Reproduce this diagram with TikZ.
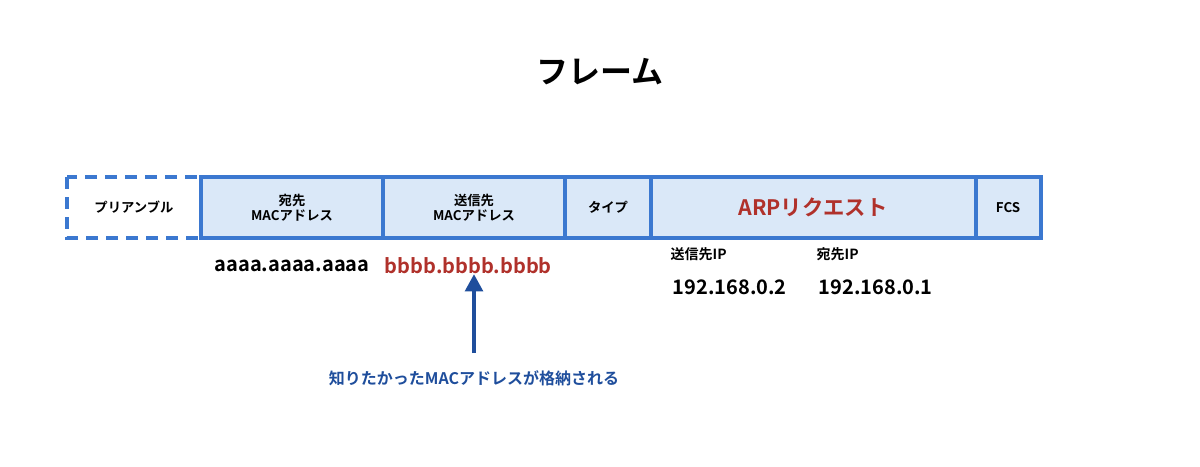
\documentclass[tikz,border=0pt]{standalone}
\usepackage{fontspec}
\newfontfamily\jp{Noto Sans CJK JP Bold}
\usetikzlibrary{arrows.meta}
\definecolor{bfill}{HTML}{DAE8F8}
\definecolor{bline}{HTML}{3B78D0}
\definecolor{dred}{HTML}{B0312B}
\definecolor{dblue}{HTML}{1F4E9C}
\tikzset{
 fld/.style={draw=bline,line width=3pt,fill=bfill,inner sep=0pt},
 lbl/.style={font=\jp\fontsize{10}{11.5}\selectfont,align=center},
 val/.style={font=\jp\fontsize{15}{17}\selectfont,anchor=west},
 sm/.style={font=\jp\fontsize{10.5}{12}\selectfont,anchor=west}
}
\begin{document}
\begin{tikzpicture}[x=0.75pt,y=-0.75pt]
\useasboundingbox (0,0) rectangle (1200,467);
\node[font=\jp\fontsize{24}{27}\selectfont] (title) at (600,72) {フレーム};
\draw[bline,line width=3pt,dash pattern=on 9pt off 6pt] (67,177) rectangle (201,238);
\node[lbl] (pre) at (134,207.5) {プリアンブル};
\draw[fld] (201,177) rectangle (1041,238);
\foreach \x in {383,565,651,976}{\draw[bline,line width=3pt] (\x,177)--(\x,238);}
\node[lbl] (dst) at (292,207.5) {宛先\\MACアドレス};
\node[lbl] (src) at (474,207.5) {送信先\\MACアドレス};
\node[lbl] (typ) at (608,207.5) {タイプ};
\node[font=\jp\fontsize{16}{18}\selectfont,text=dred] (arp) at (813,207.5) {ARPリクエスト};
\node[lbl] (fcs) at (1008,207.5) {FCS};
\node[val] (a) at (210,266) {aaaa.aaaa.aaaa};
\node[val,text=dred] (b) at (380,266) {bbbb.bbbb.bbbb};
\node[sm] (sip) at (666,254) {送信先IP};
\node[sm] (dip) at (812,254) {宛先IP};
\node[val] (ip1) at (668,287) {192.168.0.2};
\node[val] (ip2) at (814,287) {192.168.0.1};
\node[font=\jp\fontsize{12}{14}\selectfont,text=dblue] (cap) at (474,378) {知りたかったMACアドレスが格納される};
\coordinate (s) at (474,353);
\draw[dblue,line width=3.5pt,-{Triangle[length=13pt,width=13pt]}] (s) -- (474,274);
\end{tikzpicture}
\end{document}
